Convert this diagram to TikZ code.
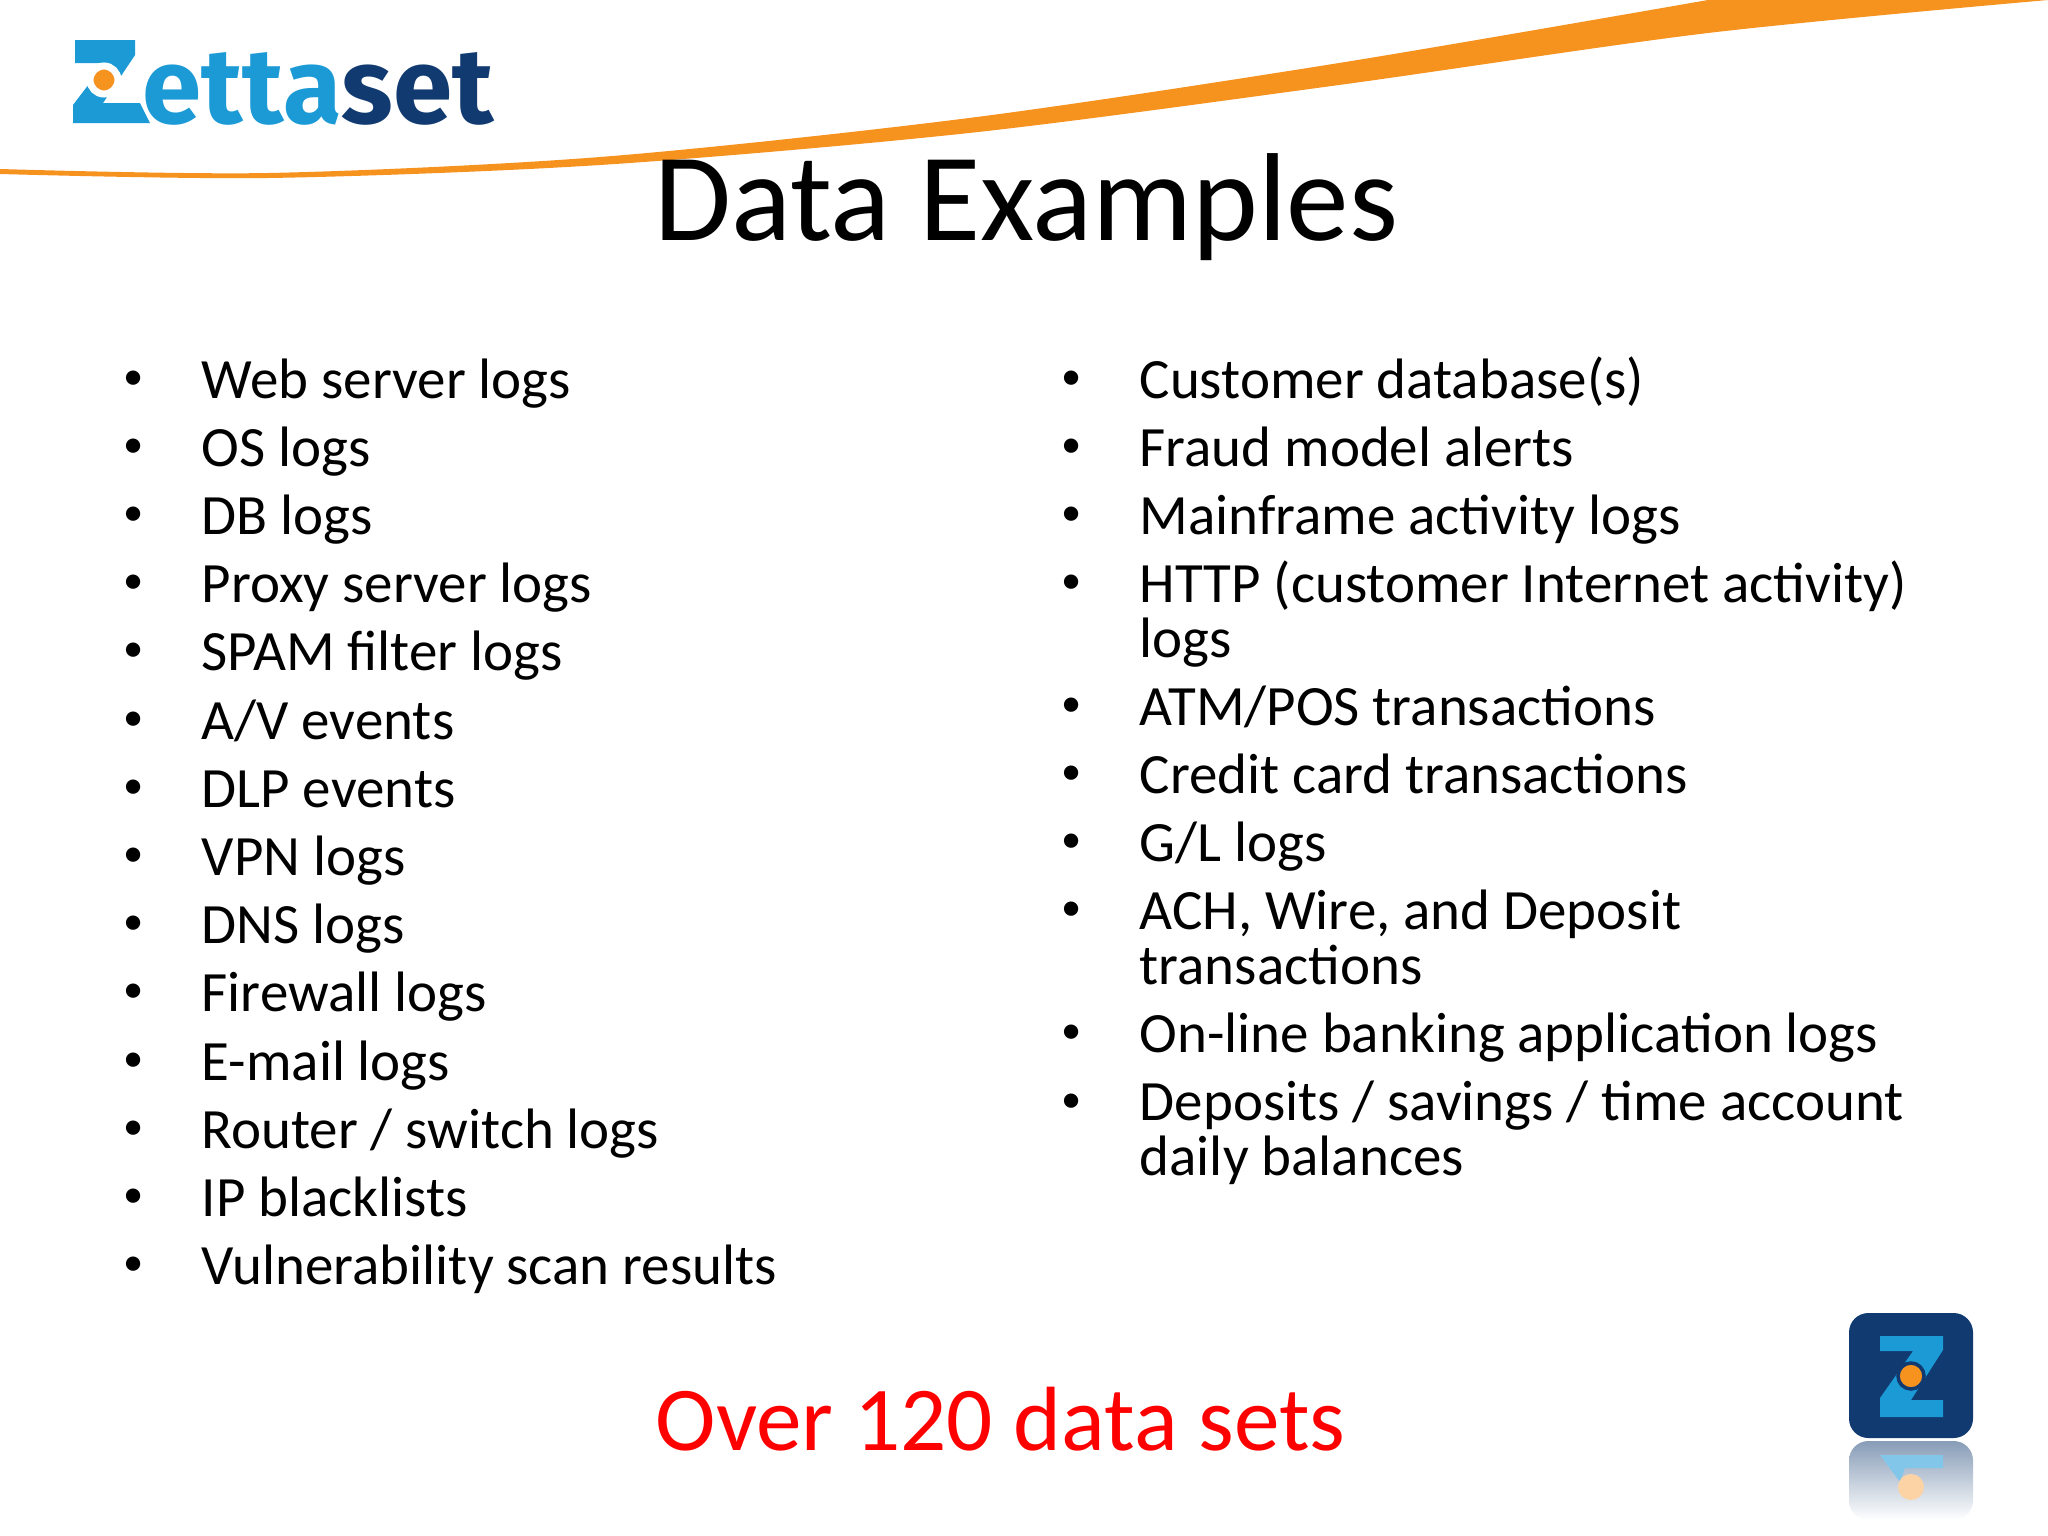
\documentclass[tikz,border=0pt]{standalone}
\usepackage{fontspec}
\setmainfont{Carlito}
\newfontfamily\logofont{Fira Sans}
\usetikzlibrary{positioning, calc}
\definecolor{swooshorange}{HTML}{F6921E}
\definecolor{logoblue}{HTML}{1B9AD6}
\definecolor{logonavy}{HTML}{103A70}
\tikzset{
	itemtext/.style={anchor=base west, inner sep=0pt, align=left, font=\fontsize{16.2}{15.5}\selectfont},
	itemdot/.style={anchor=base, inner sep=0pt, font=\fontsize{11.5}{12}\selectfont},
	headtext/.style={anchor=base west, inner sep=0pt}
}
\begin{document}
\begin{tikzpicture}[x=0.01cm,y=-0.01cm]
		\useasboundingbox (0,0) rectangle (2048,1536);
		\fill[swooshorange] plot[smooth] coordinates {(0,174) (268,178) (600,165) (969,133) (1339,85) (1708,33) (2048,0)} -- (1708,0) -- plot[smooth] coordinates {(1708,0) (1339,63) (969,118) (600,157) (268,173) (0,169)} -- cycle;
		\node[headtext, font=\fontsize{35.6}{40}\selectfont] (title) at (654,240) {Data Examples};
		\node[headtext, font=\fontsize{25.95}{30}\selectfont, text=red] (footer) at (655,1450) {Over 120 data sets};
		\foreach \n/\t [count=\i from 0] in {web/Web server logs, os/OS logs, db/DB logs, proxy/Proxy server logs, spam/SPAM filter logs, av/A{/}V events, dlp/DLP events, vpn/VPN logs, dns/DNS logs, firewall/Firewall logs, mail/E-mail logs, router/Router {/} switch logs, ip/IP blacklists, scan/Vulnerability scan results} {
			\node[itemdot] (dot\n) at (134,389+68.2*\i) {\textbullet};
			\node[itemtext] (\n) at (201,398+68.2*\i) {\t};
		}
		\foreach \n/\y/\z/\t in {cust/398/398/Customer database(s), fraud/466/466/Fraud model alerts, main/534/534/Mainframe activity logs, http/602/657/{HTTP (customer Internet activity)\\logs}, atm/725/725/ATM{/}POS transactions, card/793/793/Credit card transactions, gl/861/861/G{/}L logs, ach/929/984/{ACH, Wire, and Deposit\\transactions}, online/1052/1052/On-line banking application logs, depo/1121/1175/{Deposits {/} savings {/} time account\\daily balances}} {
			\node[itemdot] (dot\n) at (1072,\y-9) {\textbullet};
			\node[itemtext] (\n) at (1139,\z) {\t};
		}
		\fill[logoblue] (75,40) -- (135,40) -- (135,55) -- (103,103) -- (140,103) -- (150,123) -- (73,123) -- (73,105) -- (105,63) -- (75,63) -- cycle;
		\draw[white, line width=2pt, fill=swooshorange] (104,80) circle (14);
		\node[headtext, font=\logofont\bfseries\fontsize{30.4}{31}\selectfont] (logo) at (142,123) {\textcolor{logoblue}{etta}\textcolor{logonavy}{set}};
		\shade[top color=logonavy!50, bottom color=white, rounded corners=5.5pt] (1849,1441) rectangle (1973,1520);
		\fill[logoblue!55] (1880,1455) -- (1943,1455) -- (1943,1468) -- (1905,1468) -- (1900,1482) -- cycle;
		\fill[swooshorange!40] (1911,1487) circle (13);
		\fill[logonavy, rounded corners=5.5pt] (1849,1313) rectangle (1973,1438);
		\fill[logoblue] (1880,1336) -- (1943,1336) -- (1943,1350) -- (1911,1400) -- (1943,1400) -- (1943,1417) -- (1880,1417) -- (1880,1398) -- (1913,1351) -- (1880,1351) -- cycle;
		\draw[logonavy, line width=1pt, fill=swooshorange] (1911,1376) circle (13);
	\end{tikzpicture}
\end{document}
